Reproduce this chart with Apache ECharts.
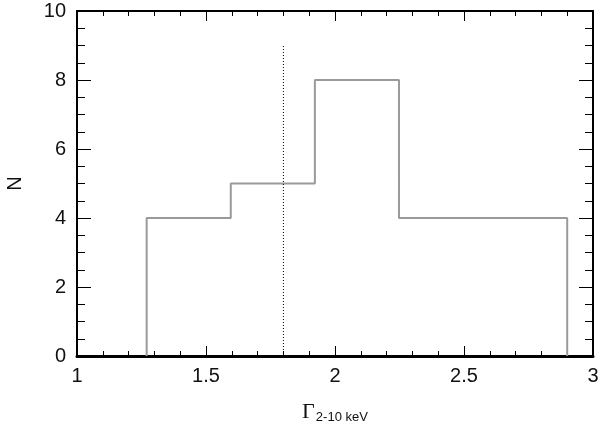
<!DOCTYPE html>
<html>
<head>
<meta charset="utf-8">
<script src="https://cdn.jsdelivr.net/npm/echarts@6/dist/echarts.min.js"></script>
<style>
  html, body { margin: 0; padding: 0; background: #fff; }
  #chart { width: 600px; height: 425px; }
</style>
</head>
<body>
<div id="chart"></div>
<script>
// histogram bin edges and counts
var binEdges = [1.27, 1.596, 1.922, 2.248, 2.574, 2.9];
var binCounts = [4, 5, 8, 4, 4];
// reference line at Gamma = 1.8
var refX = 1.8;
var refTop = 9;

var xTicks = { min: 1, max: 3, interval: 0.5 };
var yTicks = { min: 0, max: 10, interval: 2 };

// step outline of the histogram
var stepPoints = [[binEdges[0], 0]];
for (var i = 0; i < binCounts.length; i++) {
  stepPoints.push([binEdges[i], binCounts[i]]);
  stepPoints.push([binEdges[i + 1], binCounts[i]]);
}
stepPoints.push([binEdges[binEdges.length - 1], 0]);

var font = "Liberation Sans";

function xAxisCfg(pos, showLabel) {
  return {
    type: "value",
    position: pos,
    min: xTicks.min,
    max: xTicks.max,
    interval: xTicks.interval,
    axisLine: { show: true, onZero: false, lineStyle: { color: "#000", width: pos === "bottom" ? 3 : 2 } },
    axisTick: { show: true, inside: true, length: 10, lineStyle: { color: "#000", width: 1 } },
    minorTick: { show: true, splitNumber: 5, length: 5, lineStyle: { color: "#000", width: 1 } },
    splitLine: { show: false },
    axisLabel: {
      show: showLabel,
      margin: 10,
      color: "#111",
      fontFamily: font,
      fontSize: 20
    }
  };
}

function yAxisCfg(pos, showLabel) {
  return {
    type: "value",
    position: pos,
    min: yTicks.min,
    max: yTicks.max,
    interval: yTicks.interval,
    axisLine: { show: true, onZero: false, lineStyle: { color: "#000", width: 2 } },
    axisTick: { show: true, inside: true, length: 14, lineStyle: { color: "#000", width: 1 } },
    minorTick: { show: true, splitNumber: 4, length: 8, lineStyle: { color: "#000", width: 1 } },
    splitLine: { show: false },
    axisLabel: {
      show: showLabel,
      margin: 11,
      color: "#111",
      fontFamily: font,
      fontSize: 20
    }
  };
}

var xBottom = xAxisCfg("bottom", true);
xBottom.name = "{g|Γ}{s|2-10 keV}";
xBottom.nameLocation = "middle";
xBottom.nameGap = 45;
xBottom.nameTextStyle = {
  rich: {
    g: { fontFamily: "Liberation Serif", fontSize: 22, color: "#111" },
    s: { fontFamily: font, fontSize: 13, color: "#111", padding: [10, 0, 0, 1] }
  }
};

var yLeft = yAxisCfg("left", true);
yLeft.name = "N";
yLeft.nameLocation = "middle";
yLeft.nameGap = 52;
yLeft.nameRotate = 90;
yLeft.nameTextStyle = { fontFamily: font, fontSize: 20, color: "#111" };

var chart = echarts.init(document.getElementById("chart"), null, { renderer: "canvas" });
chart.setOption({
  animation: false,
  backgroundColor: "#fff",
  grid: { left: 77, right: 7, top: 11, bottom: 69, containLabel: false, outerBoundsMode: "none" },
  xAxis: [xBottom, xAxisCfg("top", false)],
  yAxis: [yLeft, yAxisCfg("right", false)],
  series: [
    {
      type: "line",
      data: stepPoints,
      showSymbol: false,
      silent: true,
      z: 1,
      lineStyle: { color: "#9a9a9a", width: 2 }
    },
    {
      type: "line",
      data: [[refX, 0], [refX, refTop]],
      showSymbol: false,
      silent: true,
      z: 2,
      lineStyle: { color: "#000", width: 1, type: [1, 2] }
    }
  ]
});
</script>
</body>
</html>
